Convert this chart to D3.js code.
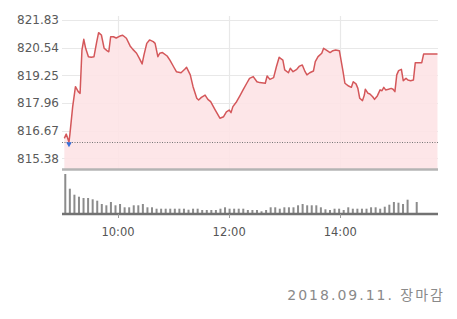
<!DOCTYPE html>
<html>
<head>
<meta charset="utf-8">
<script src="https://cdn.jsdelivr.net/npm/d3@7"></script>
<style>
  body { margin: 0; background: #fff; }
  svg { display: block; font-family: "DejaVu Sans", Verdana, sans-serif; }
</style>
</head>
<body>
<svg id="chart" width="457" height="319"></svg>
<script>
// intraday index
const priceTimes = [
  '09:02', '09:04', '09:07', '09:08', '09:11', '09:14', '09:17', '09:19', '09:21', '09:23',
  '09:25', '09:28', '09:31', '09:34', '09:37', '09:39', '09:42', '09:45', '09:48', '09:50',
  '09:52', '09:55', '09:58', '10:02', '10:05', '10:09', '10:13', '10:16', '10:20', '10:23',
  '10:26', '10:28', '10:31', '10:34', '10:38', '10:40', '10:43', '10:45', '10:48', '10:53',
  '10:56', '11:00', '11:03', '11:08', '11:12', '11:14', '11:18', '11:21', '11:25', '11:27',
  '11:30', '11:34', '11:37', '11:40', '11:45', '11:50', '11:54', '11:57', '12:00', '12:02',
  '12:04', '12:08', '12:12', '12:15', '12:19', '12:22', '12:26', '12:30', '12:33', '12:39',
  '12:41', '12:44', '12:48', '12:51', '12:54', '12:58', '13:00', '13:04', '13:06', '13:09',
  '13:13', '13:16', '13:19', '13:22', '13:24', '13:27', '13:31', '13:33', '13:36', '13:40',
  '13:42', '13:45', '13:49', '13:52', '13:55', '13:59', '14:03', '14:05', '14:09', '14:12',
  '14:14', '14:17', '14:19', '14:21', '14:24', '14:26', '14:27', '14:30', '14:32', '14:35',
  '14:37', '14:40', '14:43', '14:45', '14:47', '14:49', '14:52', '14:55', '14:57', '14:59',
  '15:01', '15:03', '15:06', '15:08', '15:11', '15:13', '15:16', '15:19', '15:21', '15:24',
  '15:28', '15:30', '15:45'
];
const prices = [
  816.31, 816.51, 816.14, 816.51, 817.79, 818.72, 818.49, 818.41, 820.43, 820.93,
  820.51, 820.12, 820.09, 820.12, 820.82, 821.24, 821.13, 820.51, 820.40, 820.35,
  821.05, 821.05, 820.99, 821.08, 821.12, 820.98, 820.62, 820.46, 820.28, 820.04,
  819.78, 820.20, 820.74, 820.90, 820.82, 820.74, 820.12, 820.28, 820.31, 820.15,
  819.96, 819.65, 819.42, 819.37, 819.53, 819.62, 819.27, 818.72, 818.18, 818.10,
  818.22, 818.33, 818.13, 818.02, 817.63, 817.25, 817.32, 817.55, 817.63, 817.51,
  817.79, 818.02, 818.33, 818.57, 818.88, 819.11, 819.19, 818.95, 818.91, 818.88,
  819.22, 819.06, 819.14, 819.65, 820.09, 819.96, 819.50, 819.37, 819.58, 819.42,
  819.53, 819.68, 819.73, 819.42, 819.27, 819.37, 819.45, 819.89, 820.12, 820.28,
  820.51, 820.43, 820.31, 820.40, 820.43, 820.40, 819.42, 818.88, 818.75, 818.69,
  818.95, 818.85, 818.64, 818.18, 818.07, 818.33, 818.60, 818.41, 818.38, 818.25,
  818.13, 818.29, 818.57, 818.53, 818.69, 818.57, 818.60, 818.64, 818.60, 818.49,
  819.27, 819.47, 819.53, 819.00, 819.11, 819.03, 819.00, 819.03, 819.84, 819.84,
  819.84, 820.24, 820.24
];
const prevClose = 816.15;
const priceTicks = [815.38, 816.67, 817.96, 819.25, 820.54, 821.83];
const timeTicks = ['10:00', '12:00', '14:00'];

// 5-minute volume (bar end time), 15:25 has no trade
const volumeTimes = d3.range(78).map((i) => d3.timeFormat('%H:%M')(new Date(2018, 8, 11, 9, 5 + i * 5)));
const volumes = [
  400, 253, 193, 173, 160, 160, 147, 133, 100, 87,
  120, 87, 100, 67, 67, 87, 87, 100, 67, 67,
  53, 53, 53, 53, 53, 53, 53, 43, 53, 53,
  40, 40, 40, 40, 53, 67, 53, 53, 53, 53,
  40, 40, 40, 27, 40, 67, 67, 53, 67, 67,
  67, 87, 100, 87, 87, 87, 67, 47, 40, 53,
  53, 40, 67, 53, 53, 53, 53, 67, 67, 53,
  73, 93, 120, 113, 100, 143, null, 120
];

const dateLabel = '2018.09.11. 장마감';

const parseTime = d3.timeParse('%H:%M');
const svg = d3.select('#chart');

const x = d3.scaleTime()
  .domain([parseTime('09:00'), parseTime('15:45')])
  .range([62.5, 437.5]);

const y = d3.scaleLinear()
  .domain([815.38, 821.83])
  .range([158.3, 20]);

const priceBottom = 169.5;
const volBase = 214;

const xBand = d3.scaleBand()
  .domain(volumeTimes)
  .range([63, 419]);

const yVol = d3.scaleLinear()
  .domain([0, 400])
  .range([volBase, 174]);

const series = priceTimes.map((t, i) => ({ t: parseTime(t), p: prices[i] }));

// Grid
const grid = svg.append('g');
grid.selectAll('line.h')
  .data(priceTicks)
  .enter()
  .append('line')
  .attr('x1', 62)
  .attr('x2', 438)
  .attr('y1', (d) => Math.round(y(d)) + 0.5)
  .attr('y2', (d) => Math.round(y(d)) + 0.5)
  .attr('stroke', '#e8e8e8')
  .attr('stroke-width', 1.2);

grid.selectAll('line.v')
  .data(timeTicks)
  .enter()
  .append('line')
  .attr('x1', (d) => Math.round(x(parseTime(d))) + 0.5)
  .attr('x2', (d) => Math.round(x(parseTime(d))) + 0.5)
  .attr('y1', 16)
  .attr('y2', priceBottom)
  .attr('stroke', '#e8e8e8')
  .attr('stroke-width', 1.2);

// Area + line
const area = d3.area()
  .x((d) => x(d.t))
  .y0(priceBottom)
  .y1((d) => y(d.p));

const line = d3.line()
  .x((d) => x(d.t))
  .y((d) => y(d.p));

svg.append('path')
  .datum(series)
  .attr('d', area)
  .attr('fill', '#fde3e5')
  .attr('fill-opacity', 0.9);

// previous close
svg.append('line')
  .attr('x1', 62)
  .attr('x2', 438)
  .attr('y1', Math.round(y(prevClose)) + 0.5)
  .attr('y2', Math.round(y(prevClose)) + 0.5)
  .attr('stroke', '#777')
  .attr('stroke-width', 1)
  .attr('stroke-dasharray', '1,1.5');

svg.append('path')
  .datum(series)
  .attr('d', line)
  .attr('fill', 'none')
  .attr('stroke', '#d4575a')
  .attr('stroke-width', 1.5)
  .attr('stroke-linejoin', 'round');

// low marker
const low = series.reduce((a, b) => (b.p < a.p ? b : a));
svg.append('path')
  .attr('d', d3.symbol().type(d3.symbolTriangle).size(14))
  .attr('transform', `translate(${x(low.t)},${y(low.p) + 2}) rotate(180)`)
  .attr('fill', '#3a6fd8');

// price axis labels
svg.append('g')
  .selectAll('text')
  .data(priceTicks)
  .enter()
  .append('text')
  .attr('x', 59)
  .attr('y', (d) => y(d))
  .attr('dy', '0.35em')
  .attr('text-anchor', 'end')
  .attr('font-size', 12)
  .attr('fill', '#5a5a5a')
  .text((d) => d.toFixed(2));

// separator under price chart
svg.append('line')
  .attr('x1', 62)
  .attr('x2', 438)
  .attr('y1', priceBottom)
  .attr('y2', priceBottom)
  .attr('stroke', '#b4b4b4')
  .attr('stroke-width', 2.5);

// volume bars
svg.append('g')
  .selectAll('rect')
  .data(volumeTimes.map((t, i) => ({ t, v: volumes[i] })).filter((d) => d.v !== null))
  .enter()
  .append('rect')
  .attr('x', (d) => xBand(d.t) + xBand.bandwidth() / 2 - 1)
  .attr('width', 2)
  .attr('y', (d) => yVol(d.v))
  .attr('height', (d) => volBase - yVol(d.v))
  .attr('fill', '#8c8c8c');

svg.append('line')
  .attr('x1', 62)
  .attr('x2', 438)
  .attr('y1', volBase)
  .attr('y2', volBase)
  .attr('stroke', '#727272')
  .attr('stroke-width', 2.5);

// time axis
const xAxis = svg.append('g');
xAxis.selectAll('line')
  .data(timeTicks)
  .enter()
  .append('line')
  .attr('x1', (d) => Math.round(x(parseTime(d))) + 0.5)
  .attr('x2', (d) => Math.round(x(parseTime(d))) + 0.5)
  .attr('y1', volBase)
  .attr('y2', volBase + 4)
  .attr('stroke', '#999');

xAxis.selectAll('text')
  .data(timeTicks)
  .enter()
  .append('text')
  .attr('x', (d) => x(parseTime(d)))
  .attr('y', 232)
  .attr('dy', '0.35em')
  .attr('text-anchor', 'middle')
  .attr('font-size', 11.5)
  .attr('fill', '#555')
  .text((d) => d);

svg.append('text')
  .attr('x', 445)
  .attr('y', 300)
  .attr('text-anchor', 'end')
  .attr('font-size', 14)
  .attr('letter-spacing', 2)
  .attr('font-family', '"DejaVu Sans", "Noto Sans CJK KR", sans-serif')
  .attr('fill', '#8a8a8a')
  .text(dateLabel);
</script>
</body>
</html>
